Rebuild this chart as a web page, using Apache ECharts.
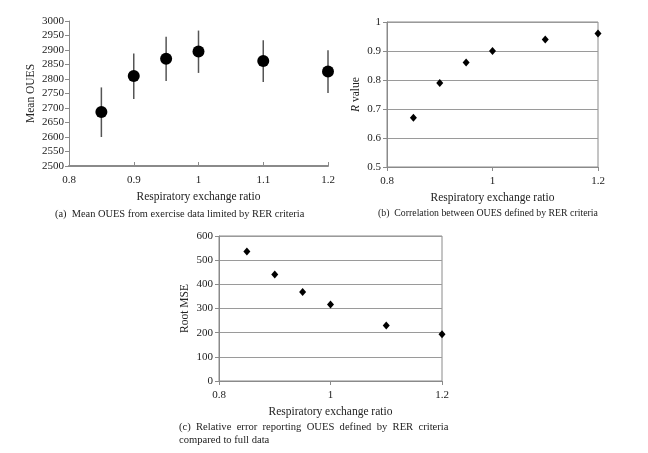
<!DOCTYPE html>
<html><head><meta charset="utf-8">
<script src="https://cdn.jsdelivr.net/npm/echarts@6/dist/echarts.min.js"></script>
<style>html,body{margin:0;padding:0;background:#fff}#c{width:648px;height:453px}</style>
</head><body><div id="c"></div>
<script>
const rer = [0.85, 0.9, 0.95, 1.0, 1.1, 1.2];
const meanOUES = [2686, 2810, 2870, 2895, 2862, 2826];
const oulesLow = [2600, 2731, 2793, 2821, 2790, 2752];
const oulesHigh = [2771, 2888, 2946, 2967, 2934, 2899];
const rValue = [0.67, 0.79, 0.86, 0.90, 0.94, 0.96];
const rootMSE = [536, 441, 368, 317, 230, 193];

const FONT = '"Liberation Serif", "DejaVu Serif", serif';
const TXT = '#222';
const AX = '#8a8a8a';
const fmt = v => String(Math.round(v * 10) / 10);
const fmtInt = v => String(Math.round(v));

const chart = echarts.init(document.getElementById('c'), null, {renderer: 'canvas'});
const labelStyle = {color: TXT, fontFamily: FONT, fontSize: 11};
const nameStyle = {color: TXT, fontFamily: FONT, fontSize: 11.5};

function xAx(gi, interval, tickInside) {
  return {
    type: 'value', gridIndex: gi, min: 0.8, max: 1.2, interval: interval,
    name: 'Respiratory exchange ratio', nameLocation: 'middle', nameGap: 25,
    nameTextStyle: nameStyle,
    axisLine: {lineStyle: {color: AX, width: gi === 0 ? 2 : 1}},
    axisTick: {show: true, inside: tickInside, length: 4, lineStyle: {color: AX}},
    axisLabel: Object.assign({formatter: fmt, margin: 9}, labelStyle),
    splitLine: {show: false}
  };
}

const option = {
  animation: false,
  grid: [
    {left: 69, top: 21, width: 259, height: 145},
    {left: 387, top: 22, width: 211, height: 145, show: true, borderColor: AX, borderWidth: 1},
    {left: 219, top: 236, width: 223, height: 145, show: true, borderColor: AX, borderWidth: 1}
  ],
  xAxis: [xAx(0, 0.1, true), xAx(1, 0.2, false), xAx(2, 0.2, false)],
  yAxis: [
    {type: 'value', gridIndex: 0, min: 2500, max: 3000, interval: 50,
     name: 'Mean OUES', nameLocation: 'middle', nameGap: 32, nameTextStyle: nameStyle,
     axisLine: {show: true, lineStyle: {color: AX}}, axisTick: {show: true, length: 4, lineStyle: {color: AX}},
     axisLabel: Object.assign({margin: 5, formatter: fmtInt}, labelStyle), splitLine: {show: false}},
    {type: 'value', gridIndex: 1, min: 0.5, max: 1, interval: 0.1,
     name: '{i|R} value', nameLocation: 'middle', nameGap: 25,
     nameTextStyle: Object.assign({rich: {i: {fontStyle: 'italic', fontFamily: FONT, fontSize: 11.5, color: TXT}}}, nameStyle),
     axisLine: {show: true, lineStyle: {color: AX}}, axisTick: {show: true, length: 4, lineStyle: {color: AX}},
     axisLabel: Object.assign({margin: 6, formatter: fmt}, labelStyle),
     splitLine: {show: true, lineStyle: {color: '#9a9a9a', width: 1}}},
    {type: 'value', gridIndex: 2, min: 0, max: 600, interval: 100,
     name: 'Root MSE', nameLocation: 'middle', nameGap: 28, nameTextStyle: nameStyle,
     axisLine: {show: true, lineStyle: {color: AX}}, axisTick: {show: true, length: 4, lineStyle: {color: AX}},
     axisLabel: Object.assign({margin: 6, formatter: fmtInt}, labelStyle),
     splitLine: {show: true, lineStyle: {color: '#9a9a9a', width: 1}}}
  ],
  series: [
    {type: 'custom', xAxisIndex: 0, yAxisIndex: 0,
     data: rer.map((x, i) => [x, oulesLow[i], oulesHigh[i]]),
     renderItem: function (params, api) {
       const p1 = api.coord([api.value(0), api.value(1)]);
       const p2 = api.coord([api.value(0), api.value(2)]);
       return {type: 'line', shape: {x1: p1[0], y1: p1[1], x2: p2[0], y2: p2[1]},
               style: {stroke: '#555', lineWidth: 1.5}};
     }, z: 2},
    {type: 'scatter', xAxisIndex: 0, yAxisIndex: 0, symbol: 'circle', symbolSize: 12,
     itemStyle: {color: '#000', opacity: 1}, data: rer.map((x, i) => [x, meanOUES[i]]), z: 3},
    {type: 'scatter', xAxisIndex: 1, yAxisIndex: 1, symbol: 'diamond', symbolSize: [7, 8],
     itemStyle: {color: '#000', opacity: 1}, data: rer.map((x, i) => [x, rValue[i]])},
    {type: 'scatter', xAxisIndex: 2, yAxisIndex: 2, symbol: 'diamond', symbolSize: [7, 8],
     itemStyle: {color: '#000', opacity: 1}, data: rer.map((x, i) => [x, rootMSE[i]])}
  ],
  graphic: [
    {type: 'text', left: 55, top: 209, style: {text: '(a)  Mean OUES from exercise data limited by RER criteria', font: '10.4px ' + FONT, fill: TXT}},
    {type: 'text', left: 378, top: 208, style: {text: '(b)  Correlation between OUES defined by RER criteria', font: '9.8px ' + FONT, fill: TXT}},
    {type: 'text', left: 179, top: 422, style: {text: '(c)  Relative  error  reporting  OUES  defined  by  RER  criteria', font: '10.6px ' + FONT, fill: TXT}},
    {type: 'text', left: 179, top: 435, style: {text: 'compared to full data', font: '10.6px ' + FONT, fill: TXT}}
  ]
};
chart.setOption(option);
</script></body></html>
